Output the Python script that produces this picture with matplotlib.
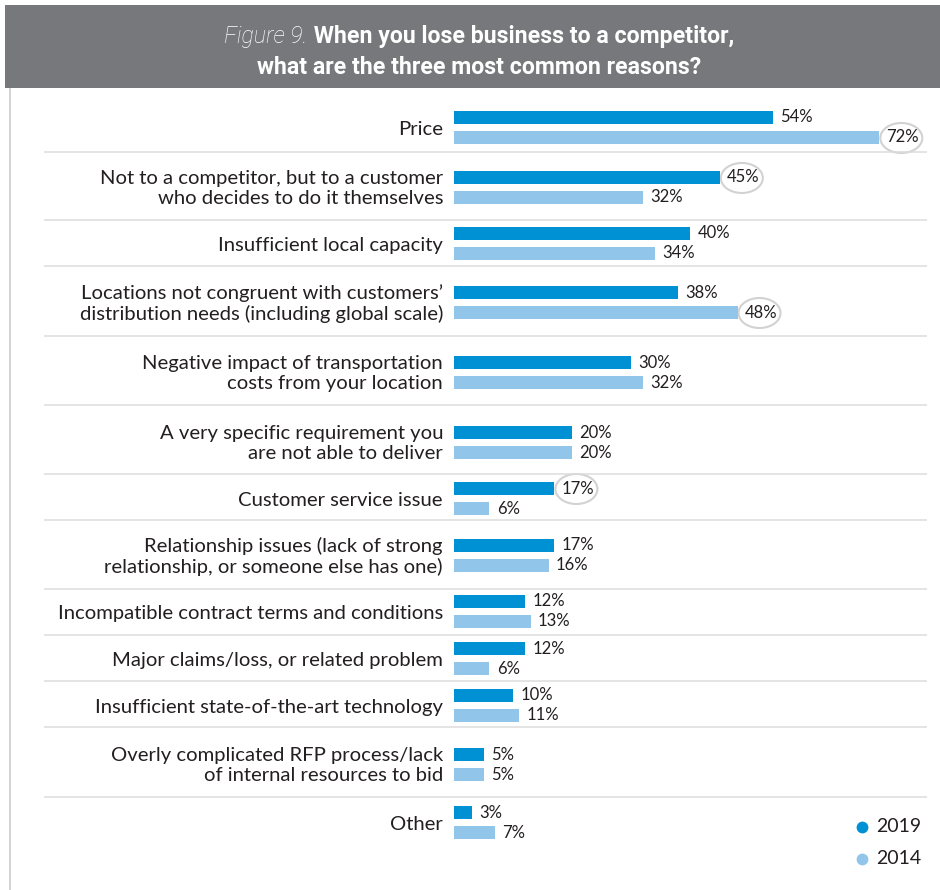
import matplotlib
matplotlib.use("Agg")
import matplotlib.pyplot as plt
from matplotlib.patches import Rectangle, Ellipse

# ---- data -------------------------------------------------------------
categories = [
    "Price",
    "Not to a competitor, but to a customer\nwho decides to do it themselves",
    "Insufficient local capacity",
    "Locations not congruent with customers\u2019\ndistribution needs (including global scale)",
    "Negative impact of transportation\ncosts from your location",
    "A very specific requirement you\nare not able to deliver",
    "Customer service issue",
    "Relationship issues (lack of strong\nrelationship, or someone else has one)",
    "Incompatible contract terms and conditions",
    "Major claims/loss, or related problem",
    "Insufficient state-of-the-art technology",
    "Overly complicated RFP process/lack\nof internal resources to bid",
    "Other",
]
values_2019 = [54, 45, 40, 38, 30, 20, 17, 17, 12, 12, 10, 5, 3]
values_2014 = [72, 32, 34, 48, 32, 20, 6, 16, 13, 6, 11, 5, 7]
series_names = ["2019", "2014"]
# circled values: (series index, category index)
highlights = [(1, 0), (0, 1), (1, 3), (0, 6)]

title_lead = "Figure 9."
title_line1 = "When you lose business to a competitor,"
title_line2 = "what are the three most common reasons?"

# ---- layout (pixels) --------------------------------------------------
W, H, DPI = 940, 890, 100
row_y = [117.5, 177.5, 233.5, 292.5, 362.5, 432.5, 488.5,
         545.5, 601.5, 648.5, 695.5, 754.5, 812.5]
pair_gap = 20
separators = [152, 220, 266, 336, 405, 474, 520, 589, 635, 681, 727, 797]
bar_left_px, px_per_pct = 454, 5.907
bar_h = 13

colors = ["#0091d5", "#92c5ea"]
text_color = "#231f20"
header_color = "#77787b"
rule_color = "#dcdcdc"

FONT = "Lato"
plt.rcParams["font.family"] = [FONT, "DejaVu Sans"]

fig = plt.figure(figsize=(W / DPI, H / DPI), dpi=DPI)
fig.patch.set_facecolor("white")

# background / annotation layer in pixel coordinates
bg = fig.add_axes([0, 0, 1, 1])
bg.set_xlim(0, W)
bg.set_ylim(H, 0)
bg.axis("off")

# bar layer: x in percent, y in pixel rows
xmax = 80
ax = fig.add_axes([bar_left_px / W, 0, xmax * px_per_pct / W, 1])
ax.set_xlim(0, xmax)
ax.set_ylim(H, 0)
ax.axis("off")
ax.patch.set_alpha(0)

# header band
bg.add_patch(Rectangle((5, 5), W - 5, 83, facecolor=header_color,
                       edgecolor="none"))
# left frame rule
bg.plot([9.5, 9.5], [88, H], color="#c8c8c8", lw=1.1, solid_capstyle="butt")

# row separators
for y in separators:
    bg.plot([44, 927], [y, y], color=rule_color, lw=1.1,
            solid_capstyle="butt")

# bars
y19 = row_y
y14 = [y + pair_gap for y in row_y]
ax.barh(y19, values_2019, height=bar_h, color=colors[0], linewidth=0)
ax.barh(y14, values_2014, height=bar_h, color=colors[1], linewidth=0)

# value labels
for vals, ys in ((values_2019, y19), (values_2014, y14)):
    for v, y in zip(vals, ys):
        ax.annotate(f"{v}%", (v, y), xytext=(5.2, 0),
                    textcoords="offset points", ha="left", va="center",
                    fontsize=12, color=text_color)

# circled values
for s, i in highlights:
    v = (values_2019, values_2014)[s][i]
    y = (y19, y14)[s][i]
    px, py = ax.transData.transform((v, y))
    cx, cy = bg.transData.inverted().transform((px, py))
    bg.add_patch(Ellipse((cx + 22, cy + 0.5), 42, 30, fill=False,
                         edgecolor="#d2d2d2", lw=1.5))

# category labels
for cat, y in zip(categories, row_y):
    off = 1.0 if "\n" in cat else 2.0
    bg.text(443, y + pair_gap / 2 + off, cat, ha="right", va="center",
            fontsize=14.6, color=text_color, linespacing=1.25)

# legend
for k, name in enumerate(series_names):
    ly = 827 + 32 * k
    bg.plot(862, ly, "o", ms=8.5, color=colors[k], mec="none")
    bg.text(876, ly, name, ha="left", va="center", fontsize=14,
            color=text_color)

# title
title_font = ["Roboto", "DejaVu Sans"]
t_lead = bg.text(0, 37, title_lead, ha="left", va="center", fontsize=16.7,
                 style="italic", fontweight="light", color="white",
                 family=title_font)
t_main = bg.text(0, 37, " " + title_line1, ha="left", va="center",
                 fontsize=16.7, fontweight="bold", color="white",
                 family=title_font)
bg.text(479, 68, title_line2, ha="center", va="center", fontsize=16.7,
        fontweight="bold", color="white", family=title_font)

renderer = fig.canvas.get_renderer()
w_lead = t_lead.get_window_extent(renderer).width
w_main = t_main.get_window_extent(renderer).width
x0 = 479 - (w_lead + w_main) / 2
t_lead.set_x(x0)
t_main.set_x(x0 + w_lead)

fig.savefig("out.png", dpi=DPI, facecolor="white")
